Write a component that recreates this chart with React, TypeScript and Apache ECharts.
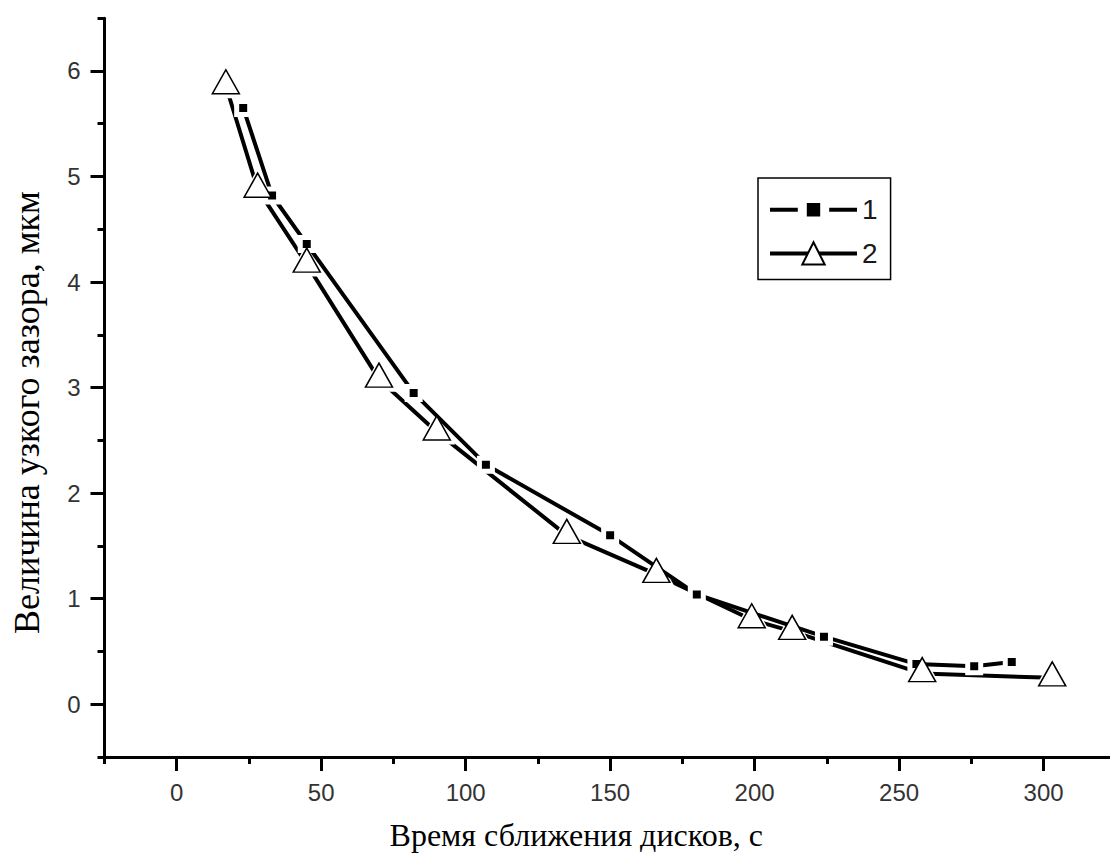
import React, { useEffect, useRef } from "react";
import * as echarts from "echarts";

// Series 1: filled squares
const series1X = [23, 33, 45, 82, 107, 150, 180, 224, 256, 276, 289];
const series1Y = [5.65, 4.82, 4.36, 2.95, 2.27, 1.6, 1.04, 0.64, 0.38, 0.36, 0.4];

// Series 2: open triangles
const series2X = [17, 28, 45, 70, 90, 135, 166, 199, 213, 258, 303];
const series2Y = [5.86, 4.88, 4.17, 3.08, 2.58, 1.6, 1.23, 0.8, 0.69, 0.29, 0.25];

const legendNames = ["1", "2"];
const xMajorTicks = [0, 50, 100, 150, 200, 250, 300];
const xMinorTicks = [-25, 25, 75, 125, 175, 225, 275];
const yMajorTicks = [0, 1, 2, 3, 4, 5, 6];
const yMinorTicks = [-0.5, 0.5, 1.5, 2.5, 3.5, 4.5, 5.5, 6.5];
const xTitle = "Время сближения дисков, с";
const yTitle = "Величина узкого зазора, мкм";

const X_MIN = -25;
const X_MAX = 323;
const Y_MIN = -0.5;
const Y_MAX = 6.5;

export default function App() {
  const ref = useRef<HTMLDivElement>(null);

  useEffect(() => {
    if (!ref.current) return;
    const chart = echarts.init(ref.current, undefined, { renderer: "svg" });

    const pairs1 = series1X.map((x, i) => [x, series1Y[i]]);
    const pairs2 = series2X.map((x, i) => [x, series2Y[i]]);

    const black = "#000";
    const tickLabel = {
      fontSize: 24,
      fontFamily: "Liberation Sans, Arial, sans-serif",
      color: "#333",
    };
    const serif = "Liberation Serif, Times New Roman, serif";

    const option: any = {
      animation: false,
      backgroundColor: "#fff",
      grid: {
        left: 104.5,
        right: 0,
        top: 18.2,
        bottom: 110,
        containLabel: false,
        outerBoundsMode: "none",
      },
      legend: {
        show: true,
        data: [
          { name: legendNames[0], itemStyle: { borderWidth: 9 }, lineStyle: { width: 4, color: black } },
          { name: legendNames[1], lineStyle: { width: 4, color: black } },
        ],
        orient: "vertical",
        left: 758,
        top: 178,
        itemWidth: 87,
        itemHeight: 28,
        itemGap: 14,
        padding: [16, 13, 12, 10],
        borderColor: black,
        borderWidth: 1.5,
        borderRadius: 0,
        backgroundColor: "#fff",
        selectedMode: false,
        textStyle: {
          fontSize: 28,
          fontFamily: "Liberation Sans, Arial, sans-serif",
          color: "#1a1a1a",
        },
      },
      xAxis: [
        {
          type: "value",
          min: X_MIN,
          max: X_MAX,
          position: "bottom",
          axisLine: { show: true, onZero: false, lineStyle: { color: black, width: 3 } },
          axisTick: {
            show: true,
            customValues: xMajorTicks,
            length: 14,
            lineStyle: { color: black, width: 3 },
          },
          axisLabel: { show: true, customValues: xMajorTicks, margin: 23, ...tickLabel },
          splitLine: { show: false },
          minorTick: { show: false },
          name: xTitle,
          nameLocation: "middle",
          nameGap: 62,
          nameTextStyle: { fontSize: 32, fontFamily: serif, color: "#000", padding: [0, 62, 0, 0] },
        },
        {
          type: "value",
          min: X_MIN,
          max: X_MAX,
          position: "bottom",
          axisLine: { show: false, onZero: false },
          axisTick: {
            show: true,
            customValues: xMinorTicks,
            length: 7,
            lineStyle: { color: black, width: 3 },
          },
          axisLabel: { show: false },
          splitLine: { show: false },
        },
      ],
      yAxis: [
        {
          type: "value",
          min: Y_MIN,
          max: Y_MAX,
          position: "left",
          axisLine: { show: true, onZero: false, lineStyle: { color: black, width: 3 } },
          axisTick: {
            show: true,
            customValues: yMajorTicks,
            length: 14,
            lineStyle: { color: black, width: 3 },
          },
          axisLabel: { show: true, customValues: yMajorTicks, margin: 24, ...tickLabel },
          splitLine: { show: false },
          name: yTitle,
          nameLocation: "middle",
          nameGap: 60,
          nameTextStyle: { fontSize: 36, fontFamily: serif, color: "#000", padding: [0, 50, 0, 0] },
        },
        {
          type: "value",
          min: Y_MIN,
          max: Y_MAX,
          position: "left",
          axisLine: { show: false, onZero: false },
          axisTick: {
            show: true,
            customValues: yMinorTicks,
            length: 7,
            lineStyle: { color: black, width: 3 },
          },
          axisLabel: { show: false },
          splitLine: { show: false },
        },
      ],
      series: [
        {
          name: legendNames[1],
          type: "line",
          data: pairs2,
          xAxisIndex: 0,
          yAxisIndex: 0,
          showSymbol: false,
          symbol: "triangle",
          symbolSize: [27, 24],
          lineStyle: { color: black, width: 4 },
          itemStyle: { color: "#fff", borderColor: black, borderWidth: 1.5 },
          silent: true,
          z: 2,
        },
        {
          name: "gap2",
          type: "line",
          data: pairs2,
          xAxisIndex: 0,
          yAxisIndex: 0,
          showSymbol: true,
          symbol: "triangle",
          symbolSize: [37, 33],
          symbolOffset: [0, -4],
          lineStyle: { width: 0, opacity: 0 },
          itemStyle: { color: "#fff", borderWidth: 0 },
          silent: true,
          z: 3,
        },
        {
          name: legendNames[0],
          type: "line",
          data: pairs1,
          xAxisIndex: 0,
          yAxisIndex: 0,
          showSymbol: true,
          symbol: "rect",
          symbolSize: 13,
          lineStyle: { color: black, width: 4 },
          itemStyle: { color: black, borderColor: "#fff", borderWidth: 5 },
          silent: true,
          z: 4,
        },
        {
          name: "sym2",
          type: "line",
          data: pairs2,
          xAxisIndex: 0,
          yAxisIndex: 0,
          showSymbol: true,
          symbol: "triangle",
          symbolSize: [27, 24],
          symbolOffset: [0, -4],
          lineStyle: { width: 0, opacity: 0 },
          itemStyle: { color: "#fff", borderColor: black, borderWidth: 1.5 },
          silent: true,
          z: 5,
        },
      ],
    };

    chart.setOption(option);
    return () => chart.dispose();
  }, []);

  return (
    <div
      ref={ref}
      style={{ position: "absolute", left: 0, top: 0, width: 1110, height: 867, background: "#fff" }}
    />
  );
}
